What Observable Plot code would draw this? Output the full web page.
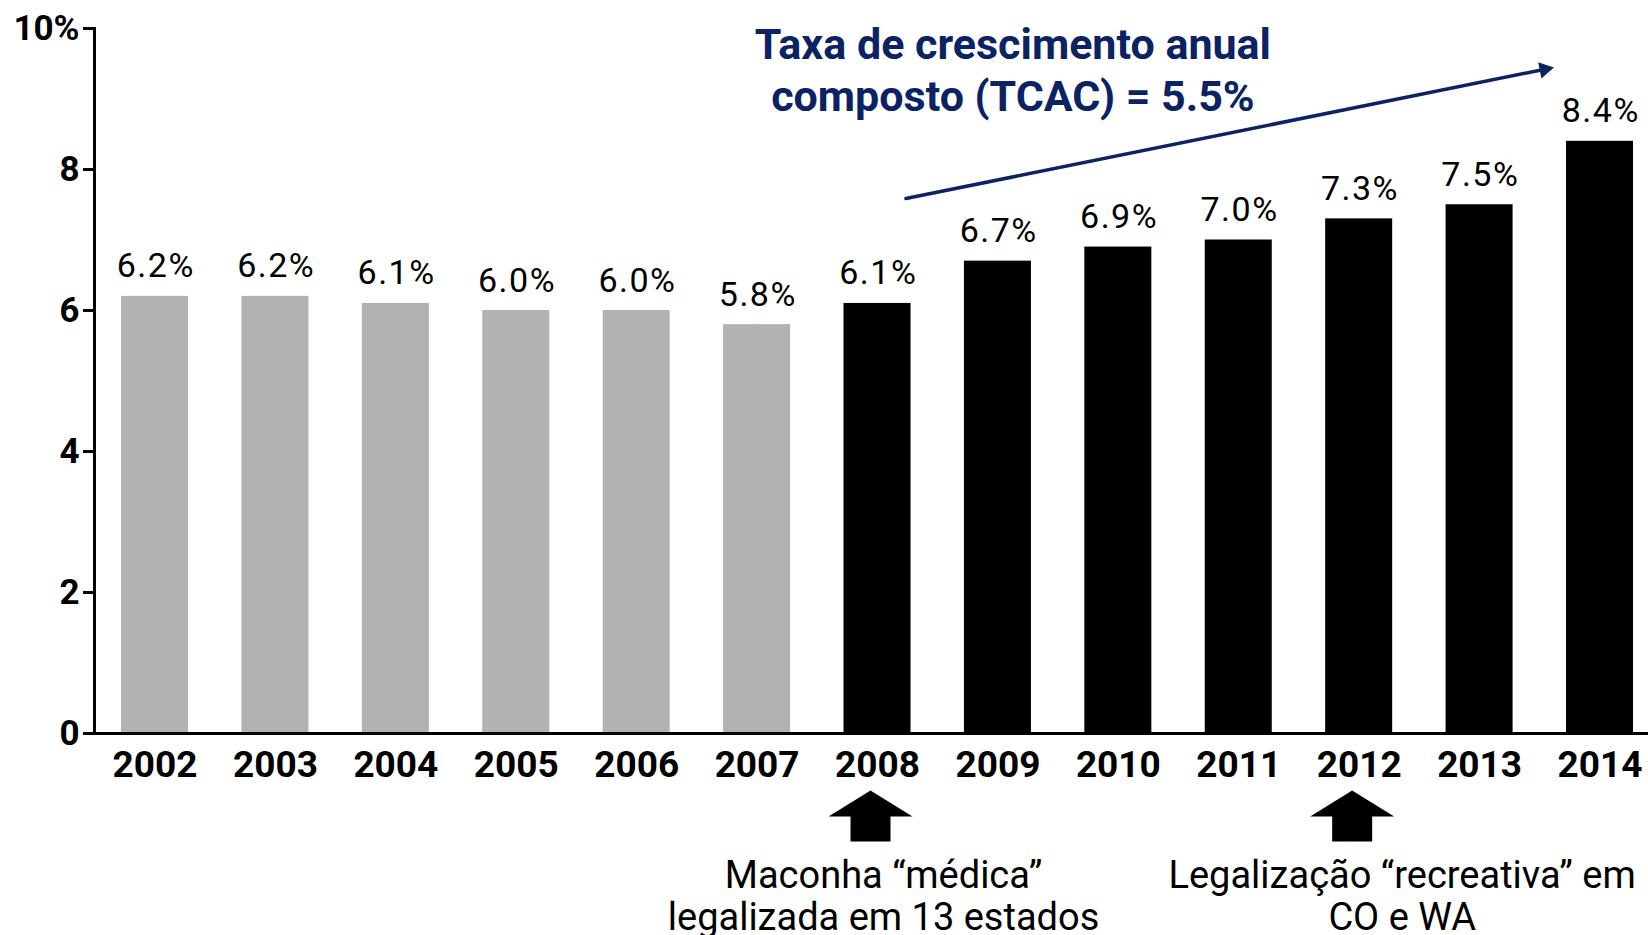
<!DOCTYPE html>
<html><head><meta charset="utf-8">
<script src="https://cdn.jsdelivr.net/npm/d3@7"></script>
<script src="https://cdn.jsdelivr.net/npm/@observablehq/plot@0.6"></script>
<style>
html,body{margin:0;padding:0;background:#fff;overflow:hidden}
</style></head><body><div id="chart"></div>
<script>
const years = ["2002","2003","2004","2005","2006","2007","2008","2009","2010","2011","2012","2013","2014"];
const shares = [6.2, 6.2, 6.1, 6.0, 6.0, 5.8, 6.1, 6.7, 6.9, 7.0, 7.3, 7.5, 8.4];
const periods = ["antes","antes","antes","antes","antes","antes","depois","depois","depois","depois","depois","depois","depois"];
const yTicks = [0, 2, 4, 6, 8, 10];
const noteYears = ["2008", "2012"];
const noteTexts = ["Maconha “médica”\nlegalizada em 13 estados", "Legalização “recreativa” em\nCO e WA"];
const cagrTitle = "Taxa de crescimento anual\ncomposto (TCAC) = 5.5%";

const navy = "#0b2265";
const rows = years.map((y, i) => ({year: y, value: shares[i], period: periods[i]}));

const blockArrow = {draw(ctx) {
  ctx.moveTo(0, -25.5); ctx.lineTo(42, 0.5); ctx.lineTo(20, 0.5); ctx.lineTo(20, 25.5);
  ctx.lineTo(-20, 25.5); ctx.lineTo(-20, 0.5); ctx.lineTo(-42, 0.5); ctx.closePath();
}};

const chart = Plot.plot({
  width: 1648,
  height: 935,
  marginLeft: 94,
  marginRight: 0,
  marginTop: 28,
  marginBottom: 202,
  style: {fontFamily: "Roboto", background: "#fff", color: "#000"},
  x: {domain: years, paddingInner: 0.4436, paddingOuter: 0.1744, align: 0.643, round: false, label: null},
  y: {domain: [0, 10], label: null},
  color: {domain: ["antes", "depois"], range: ["#b2b2b2", "#000000"]},
  marks: [
    Plot.barY(rows, {x: "year", y: "value", fill: "period"}),
    Plot.text(rows, {x: "year", y: "value", text: d => d.value.toFixed(1) + "%", lineAnchor: "bottom", dy: -19, dx: 0.75, fontSize: 34, fill: "#000"}),
    Plot.frame({anchor: "left", strokeWidth: 3, stroke: "#000"}),
    Plot.ruleY([0], {strokeWidth: 3, stroke: "#000"}),
    Plot.axisY({ticks: yTicks, tickFormat: d => d === 10 ? "10%" : String(d), tickSize: 11, tickPadding: 4, strokeWidth: 3, fontSize: 35, fontWeight: "bold", fill: "#000", stroke: "#000", label: null}),
    Plot.axisX({tickSize: 0, tickPadding: 17, fontSize: 37, fontWeight: "bold", fill: "#000", label: null}),
    Plot.dot(noteYears, {x: d => d, frameAnchor: "bottom", dy: 82.5, dx: -7, symbol: blockArrow, r: 10, fill: "#000", stroke: null}),
    Plot.text([noteTexts[0]], {x: () => noteYears[0], text: d => d, frameAnchor: "bottom", lineAnchor: "top", dy: 124, dx: 6, fontSize: 38, lineHeight: 1.12, fill: "#000"}),
    Plot.text([noteTexts[1]], {x: () => noteYears[1], text: d => d, frameAnchor: "bottom", lineAnchor: "top", dy: 124, dx: 43, fontSize: 38, lineHeight: 1.12, fill: "#000"}),
    Plot.arrow([0], {x1: () => "2008", y1: 7.506, x2: () => "2014", y2: 9.58, insetStart: 29, insetEnd: 56, headLength: 0, bend: 0, stroke: navy, strokeWidth: 3.5}),
    Plot.dot([0], {x: () => "2014", y: 9.42, dx: -55.5, symbol: "triangle", r: 6.2, rotate: 78.6, fill: navy, stroke: null}),
    Plot.text([cagrTitle], {x: () => "2009", text: d => d, frameAnchor: "top", lineAnchor: "top", dy: -6, dx: 15, fontSize: 43, fontWeight: "bold", lineHeight: 1.2, fill: navy})
  ]
});
d3.select(chart).selectAll("text")
  .filter(function() { return /^\d+\.\d%$/.test(this.textContent); })
  .style("letter-spacing", "1.5px");
document.getElementById("chart").appendChild(chart);
</script>
</body></html>
